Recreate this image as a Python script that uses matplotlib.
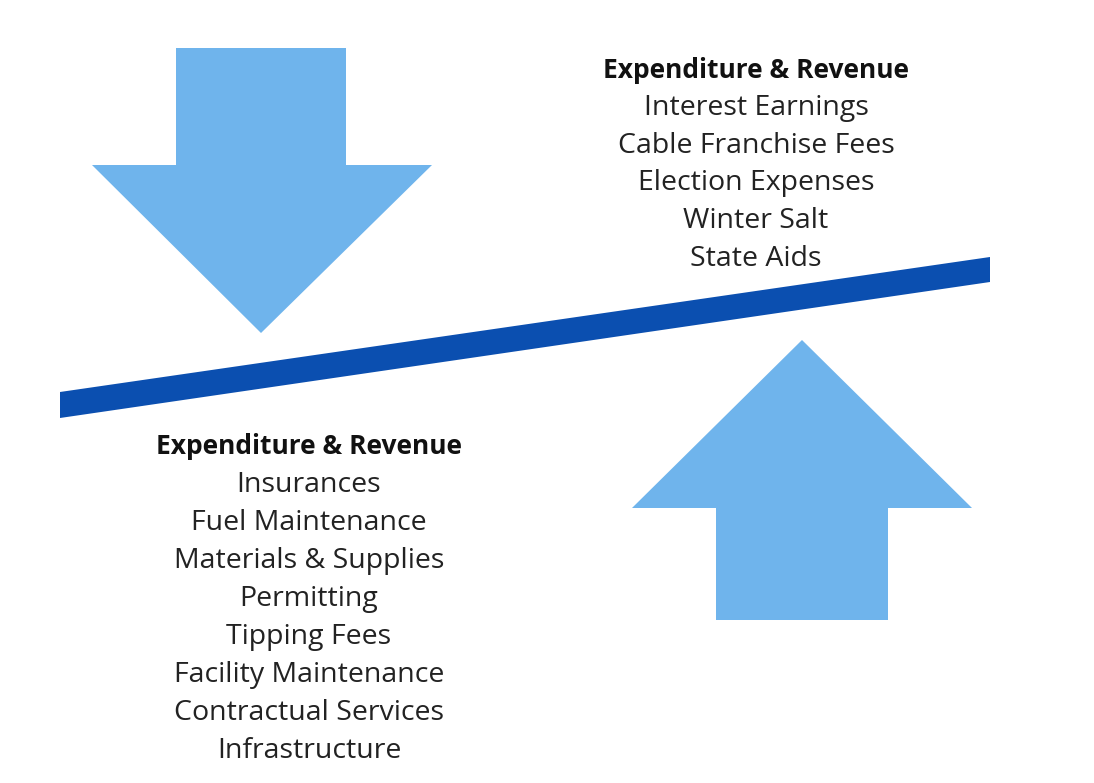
import matplotlib
matplotlib.use("Agg")
import matplotlib.pyplot as plt
from matplotlib.patches import Polygon

# Text content
header = "Expenditure & Revenue"
top_items = ["Interest Earnings", "Cable Franchise Fees", "Election Expenses",
             "Winter Salt", "State Aids"]
bottom_items = ["Insurances", "Fuel Maintenance", "Materials & Supplies", "Permitting",
                "Tipping Fees", "Facility Maintenance", "Contractual Services",
                "Infrastructure"]

ARROW_COLOR = "#6fb4ec"
BEAM_COLOR = "#0b4fb0"
FONT = "Open Sans"

fig = plt.figure(figsize=(10.94, 7.83), dpi=100)
ax = fig.add_axes([0, 0, 1, 1])
ax.set_xlim(0, 1094)
ax.set_ylim(783, 0)
ax.axis("off")

# Down arrow (top-left)
down_arrow = [(176, 48), (346, 48), (346, 165), (432, 165), (261, 333),
              (92, 165), (176, 165)]
ax.add_patch(Polygon(down_arrow, closed=True, color=ARROW_COLOR, lw=0))

# Up arrow (bottom-right)
up_arrow = [(802, 340), (972, 508), (888, 508), (888, 620), (716, 620),
            (716, 508), (632, 508)]
ax.add_patch(Polygon(up_arrow, closed=True, color=ARROW_COLOR, lw=0))

# Beam
beam = [(60, 392), (990, 257), (990, 282), (60, 418)]
ax.add_patch(Polygon(beam, closed=True, color=BEAM_COLOR, lw=0))

fs = 20.5
fs_b = 19
step = 37.8
# Top text block
tx, ty = 756, 70
ax.text(tx, ty, header, ha="center", va="center", fontsize=fs_b, fontweight="bold",
        family=FONT, color="#111111")
for i, t in enumerate(top_items):
    ax.text(tx, ty + step * (i + 1), t, ha="center", va="center", fontsize=fs,
            family=FONT, color="#222222")

# Bottom text block
bx, by = 309, 447
ax.text(bx, by, header, ha="center", va="center", fontsize=fs_b, fontweight="bold",
        family=FONT, color="#111111")
for i, t in enumerate(bottom_items):
    ax.text(bx, by + 38 * (i + 1), t, ha="center", va="center", fontsize=fs,
            family=FONT, color="#222222")

fig.savefig("out.png", dpi=100, facecolor="white")
